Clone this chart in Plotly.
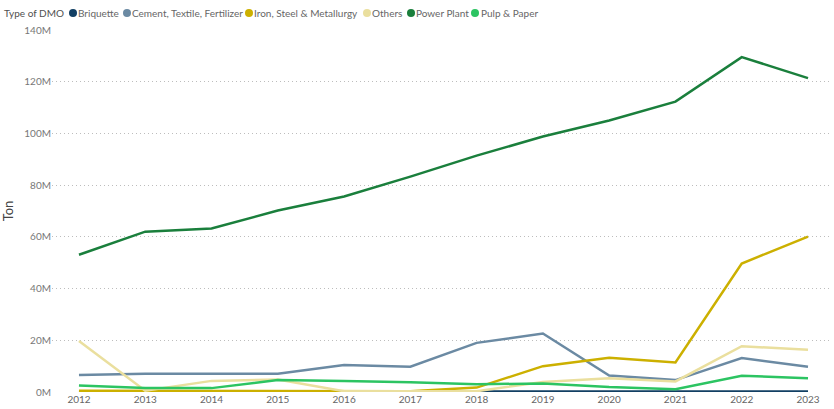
import plotly.graph_objects as go

years = list(range(2012, 2024))
briquette = [0.1, 0.1, 0.1, 0.1, 0.1, 0.1, 0.2, 0.2, 0.2, 0.2, 0.2, 0.2]
cement = [6.6, 7.1, 7.1, 7.1, 10.4, 9.8, 19.0, 22.6, 6.4, 4.6, 13.1, 9.8]
iron = [0.5, 0.5, 0.5, 0.5, 0.5, 0.3, 1.7, 10.0, 13.2, 11.4, 49.7, 60.1]
others = [19.7, 0.5, 4.3, 4.8, 0.3, 0.3, 0.3, 3.9, 5.3, 4.1, 17.7, 16.3]
power = [53.1, 62.0, 63.2, 70.2, 75.6, 83.3, 91.4, 98.8, 105.0, 112.3, 129.5, 121.4]
pulp = [2.5, 1.5, 1.5, 4.6, 4.3, 3.8, 3.0, 3.3, 1.9, 1.1, 6.3, 5.3]

names = ["Briquette", "Cement, Textile, Fertilizer", "Iron, Steel & Metallurgy",
         "Others", "Power Plant", "Pulp & Paper"]
values = [briquette, cement, iron, others, power, pulp]
colors = ["#123F63", "#6B8AA3", "#CCB000", "#EADF9E", "#1A7F3C", "#2CC462"]

# plot area geometry (pixels)
L, R, T, B = 52, 2, 30, 17
W, H = 834, 409
PW, PH = W - L - R, H - T - B

fig = go.Figure()
for name, vals, color in zip(names, values, colors):
    fig.add_trace(go.Scatter(
        x=years, y=[v * 1e6 for v in vals], name=name, mode="lines",
        line=dict(color=color, width=2.5), showlegend=False,
    ))

# manual legend (positions in pixels)
legend_circle_px = [73, 127, 249, 367, 411, 475]
legend_text_px = [76, 130, 252, 370, 414, 479]
ly = 1 + (T - 13) / PH
def px(xp):
    return (xp - L) / PW

annotations = [dict(
    text="Type of DMO", x=px(2), y=ly, xref="paper", yref="paper",
    xanchor="left", yanchor="middle", showarrow=False,
    font=dict(family="Lato, sans-serif", size=10, color="#505050"),
)]
shapes = []
for name, color, cx, tx in zip(names, colors, legend_circle_px, legend_text_px):
    shapes.append(dict(
        type="circle", xref="paper", yref="paper", xsizemode="pixel",
        ysizemode="pixel", xanchor=px(cx), yanchor=ly, x0=-4, x1=4, y0=-4, y1=4,
        fillcolor=color, line=dict(width=0),
    ))
    annotations.append(dict(
        text=name, x=px(tx), y=ly, xref="paper", yref="paper",
        xanchor="left", yanchor="middle", showarrow=False,
        font=dict(family="Lato, sans-serif", size=10, color="#666666"),
    ))

fig.update_layout(
    width=W, height=H,
    margin=dict(l=L, r=R, t=T, b=B),
    paper_bgcolor="white", plot_bgcolor="white",
    font=dict(family="Lato, DejaVu Sans, sans-serif", color="#666666", size=10),
    showlegend=False,
    annotations=annotations,
    shapes=shapes,
    xaxis=dict(
        range=[2011.593, 2023.362], tickmode="array", tickvals=years,
        ticktext=[str(y) for y in years], showgrid=False, zeroline=False,
        showline=False, ticks="", tickfont=dict(size=10, color="#666666"),
    ),
    yaxis=dict(
        range=[0, 140e6], tickvals=[i * 20e6 for i in range(8)],
        ticktext=[f"{i*20}M" for i in range(8)],
        showgrid=True, gridcolor="#BDBDBD", griddash="1px,3px", gridwidth=1,
        zeroline=False, showline=False, ticks="",
        tickfont=dict(size=10, color="#777777"),
        title=dict(text="Ton", font=dict(size=13, color="#444444"), standoff=10),
    ),
)

fig.write_html("out.html")
